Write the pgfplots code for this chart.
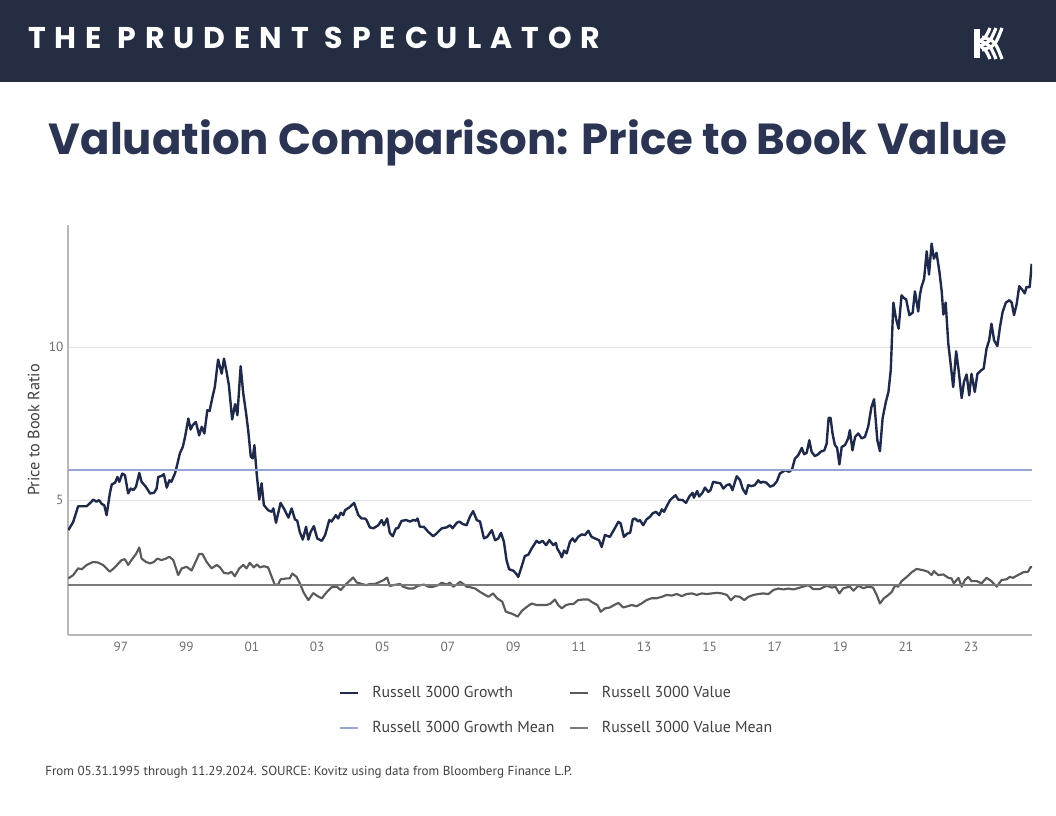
\documentclass[border=0pt]{standalone}
\usepackage{pgfplots}
\pgfplotsset{compat=1.18}
\usepackage{pgfplotstable}
\usepackage{fontspec}
\setmainfont{PT Sans}
\newfontfamily\poppins{Poppins}
\definecolor{navy}{HTML}{252D43}
\definecolor{growth}{HTML}{1F2A4A}
\definecolor{gmean}{HTML}{94A6D1}
\definecolor{valuec}{HTML}{5A5A5A}
\definecolor{vmean}{HTML}{7A7A7A}
\definecolor{titlec}{HTML}{2B3553}
\definecolor{txtgray}{HTML}{404040}
\definecolor{tickgray}{HTML}{6E6E6E}

\pgfplotstableread{
x y
1995.39 4.02
1995.54 4.29
1995.69 4.80
1995.95 4.80
1996.10 4.95
1996.15 5.02
1996.25 4.95
1996.33 5.00
1996.41 4.88
1996.49 4.83
1996.56 4.51
1996.66 5.22
1996.72 5.52
1996.82 5.57
1996.89 5.76
1996.95 5.60
1997.04 5.87
1997.12 5.82
1997.22 5.22
1997.30 5.38
1997.38 5.33
1997.46 5.44
1997.56 5.89
1997.63 5.60
1997.76 5.44
1997.89 5.22
1998.01 5.24
1998.09 5.38
1998.14 5.76
1998.24 5.79
1998.31 5.85
1998.40 5.41
1998.48 5.65
1998.54 5.60
1998.65 5.87
1998.70 6.07
1998.80 6.53
1998.89 6.74
1998.96 7.07
1999.06 7.67
1999.13 7.31
1999.19 7.45
1999.29 7.56
1999.39 7.12
1999.47 7.40
1999.55 7.18
1999.64 7.94
1999.71 7.92
1999.80 8.38
1999.87 8.70
1999.97 9.60
2000.08 9.14
2000.15 9.63
2000.23 9.19
2000.30 8.76
2000.40 7.64
2000.49 8.14
2000.56 7.78
2000.66 9.38
2000.74 8.49
2000.82 7.89
2000.89 7.29
2000.97 6.42
2001.03 6.37
2001.08 6.80
2001.15 5.87
2001.23 5.02
2001.30 5.55
2001.37 4.84
2001.50 4.67
2001.61 4.62
2001.66 4.73
2001.74 4.26
2001.88 4.91
2001.98 4.73
2002.12 4.43
2002.22 4.73
2002.32 4.37
2002.39 4.33
2002.47 3.95
2002.56 3.71
2002.66 4.13
2002.73 3.71
2002.80 3.96
2002.90 4.15
2003.00 3.75
2003.14 3.67
2003.24 3.85
2003.37 4.35
2003.44 4.30
2003.57 4.51
2003.64 4.40
2003.72 4.59
2003.80 4.51
2003.85 4.67
2003.98 4.76
2004.13 4.91
2004.26 4.51
2004.36 4.40
2004.46 4.40
2004.51 4.35
2004.61 4.11
2004.72 4.08
2004.87 4.18
2004.97 4.35
2005.04 4.18
2005.14 4.40
2005.22 3.93
2005.31 3.82
2005.41 4.08
2005.47 4.08
2005.58 4.32
2005.72 4.35
2005.84 4.30
2005.94 4.35
2006.02 4.33
2006.07 4.40
2006.14 4.13
2006.26 4.13
2006.40 3.96
2006.55 3.82
2006.65 3.91
2006.81 4.08
2006.96 4.11
2007.06 4.18
2007.14 4.08
2007.27 4.26
2007.35 4.30
2007.45 4.22
2007.57 4.18
2007.67 4.46
2007.77 4.64
2007.88 4.35
2007.98 4.30
2008.10 3.75
2008.20 3.80
2008.34 4.02
2008.44 3.69
2008.54 3.75
2008.62 3.93
2008.71 3.64
2008.79 3.04
2008.87 2.74
2009.00 2.69
2009.08 2.60
2009.15 2.49
2009.25 2.82
2009.35 3.17
2009.46 3.22
2009.56 3.42
2009.71 3.67
2009.79 3.60
2009.89 3.67
2010.00 3.53
2010.10 3.69
2010.22 3.53
2010.30 3.60
2010.34 3.42
2010.43 3.26
2010.48 3.13
2010.55 3.35
2010.63 3.26
2010.73 3.64
2010.81 3.75
2010.88 3.64
2010.98 3.80
2011.09 3.88
2011.19 3.86
2011.29 4.00
2011.39 3.80
2011.49 3.75
2011.62 3.69
2011.70 3.47
2011.80 3.86
2011.95 3.80
2012.08 4.04
2012.21 4.29
2012.28 4.24
2012.38 3.80
2012.49 3.91
2012.57 3.93
2012.65 4.37
2012.72 4.40
2012.82 4.30
2012.87 4.35
2012.97 4.18
2013.07 4.37
2013.18 4.46
2013.26 4.57
2013.36 4.62
2013.46 4.51
2013.54 4.70
2013.61 4.62
2013.69 4.80
2013.79 5.00
2013.87 5.08
2013.96 5.16
2014.04 5.02
2014.18 5.00
2014.28 4.91
2014.38 5.12
2014.48 5.24
2014.52 5.08
2014.62 5.30
2014.68 5.12
2014.78 5.24
2014.86 5.41
2014.96 5.27
2015.03 5.33
2015.11 5.60
2015.23 5.57
2015.33 5.55
2015.42 5.38
2015.52 5.49
2015.62 5.52
2015.70 5.33
2015.83 5.78
2015.93 5.66
2016.01 5.38
2016.11 5.20
2016.18 5.49
2016.28 5.46
2016.38 5.49
2016.49 5.65
2016.56 5.57
2016.64 5.60
2016.74 5.57
2016.85 5.44
2016.96 5.49
2017.06 5.62
2017.15 5.87
2017.31 5.98
2017.43 5.93
2017.52 6.00
2017.61 6.36
2017.71 6.47
2017.82 6.71
2017.89 6.50
2017.97 6.55
2018.05 6.96
2018.12 6.58
2018.22 6.44
2018.32 6.50
2018.39 6.58
2018.51 6.63
2018.58 6.85
2018.64 7.69
2018.70 7.69
2018.76 7.18
2018.83 6.81
2018.90 6.71
2018.97 6.17
2019.04 6.74
2019.14 6.80
2019.24 7.02
2019.29 7.29
2019.37 6.63
2019.45 7.07
2019.55 7.18
2019.65 7.02
2019.75 7.07
2019.85 7.40
2019.95 8.05
2020.03 8.30
2020.13 6.96
2020.21 6.60
2020.29 7.67
2020.39 8.21
2020.47 8.54
2020.54 9.25
2020.62 11.46
2020.70 10.94
2020.78 10.61
2020.87 11.70
2020.94 11.61
2021.01 11.57
2021.11 11.05
2021.21 11.13
2021.28 11.83
2021.38 11.17
2021.43 11.70
2021.48 11.97
2021.56 12.24
2021.64 13.14
2021.71 12.38
2021.79 13.39
2021.86 12.90
2021.94 13.09
2022.03 12.46
2022.10 11.81
2022.15 11.07
2022.22 11.46
2022.30 10.12
2022.37 9.47
2022.45 8.70
2022.54 9.87
2022.61 9.30
2022.71 8.34
2022.78 8.87
2022.86 9.11
2022.94 8.43
2023.01 9.13
2023.11 8.54
2023.19 9.13
2023.31 9.25
2023.38 9.30
2023.47 9.96
2023.55 10.23
2023.62 10.77
2023.70 10.23
2023.80 10.04
2023.88 10.66
2023.96 11.15
2024.06 11.46
2024.17 11.54
2024.24 11.46
2024.31 11.05
2024.39 11.41
2024.47 12.00
2024.57 11.87
2024.64 11.76
2024.69 11.97
2024.79 11.97
2024.85 12.73
}\growthtbl

\pgfplotstableread{
x y
1995.39 2.44
1995.54 2.55
1995.69 2.77
1995.80 2.74
1995.95 2.88
1996.15 2.98
1996.30 2.96
1996.45 2.88
1996.66 2.66
1996.82 2.81
1996.92 2.93
1997.02 3.04
1997.12 3.07
1997.22 2.88
1997.32 3.04
1997.46 3.24
1997.56 3.45
1997.63 3.09
1997.76 2.98
1997.89 2.93
1998.01 2.98
1998.11 3.09
1998.24 3.04
1998.38 3.09
1998.48 3.15
1998.60 3.04
1998.75 2.55
1998.86 2.77
1999.01 2.82
1999.16 2.70
1999.26 2.93
1999.39 3.24
1999.49 3.24
1999.62 2.98
1999.77 2.77
1999.93 2.88
2000.03 2.80
2000.15 2.62
2000.28 2.60
2000.38 2.66
2000.48 2.51
2000.62 2.77
2000.74 2.88
2000.84 2.77
2000.94 2.95
2001.06 2.80
2001.16 2.90
2001.25 2.80
2001.37 2.84
2001.50 2.80
2001.61 2.49
2001.71 2.22
2001.81 2.25
2001.88 2.41
2002.06 2.44
2002.16 2.44
2002.24 2.60
2002.37 2.49
2002.47 2.28
2002.59 1.97
2002.73 1.73
2002.88 1.96
2003.03 1.85
2003.14 1.79
2003.30 2.00
2003.44 2.15
2003.60 2.17
2003.72 2.06
2003.85 2.22
2003.98 2.35
2004.10 2.47
2004.21 2.31
2004.36 2.26
2004.50 2.22
2004.61 2.26
2004.77 2.26
2004.92 2.33
2005.04 2.39
2005.14 2.47
2005.22 2.19
2005.33 2.22
2005.43 2.24
2005.53 2.26
2005.63 2.17
2005.79 2.11
2005.94 2.11
2006.09 2.20
2006.26 2.24
2006.40 2.17
2006.55 2.17
2006.70 2.22
2006.81 2.30
2006.96 2.24
2007.06 2.30
2007.16 2.17
2007.27 2.24
2007.37 2.33
2007.47 2.26
2007.57 2.17
2007.69 2.15
2007.83 2.11
2007.98 2.00
2008.14 1.90
2008.24 1.84
2008.38 1.95
2008.50 1.79
2008.66 1.68
2008.77 1.35
2008.92 1.30
2009.05 1.24
2009.13 1.19
2009.26 1.38
2009.41 1.51
2009.56 1.62
2009.71 1.57
2009.87 1.57
2010.02 1.57
2010.14 1.62
2010.27 1.75
2010.37 1.57
2010.48 1.46
2010.61 1.57
2010.73 1.60
2010.83 1.60
2010.98 1.73
2011.13 1.75
2011.29 1.75
2011.44 1.64
2011.57 1.57
2011.67 1.35
2011.80 1.46
2011.95 1.49
2012.08 1.57
2012.21 1.64
2012.36 1.49
2012.49 1.53
2012.62 1.57
2012.77 1.53
2012.92 1.62
2013.07 1.73
2013.22 1.79
2013.38 1.79
2013.54 1.84
2013.69 1.90
2013.84 1.88
2014.00 1.93
2014.15 1.86
2014.30 1.93
2014.46 1.95
2014.61 1.90
2014.76 1.95
2014.91 1.93
2015.07 1.95
2015.22 1.97
2015.38 1.95
2015.53 1.90
2015.65 1.73
2015.78 1.86
2015.92 1.84
2016.06 1.73
2016.19 1.84
2016.34 1.90
2016.49 1.93
2016.64 1.95
2016.80 1.93
2016.95 2.06
2017.10 2.11
2017.26 2.08
2017.41 2.11
2017.56 2.08
2017.76 2.14
2018.02 2.22
2018.17 2.09
2018.37 2.09
2018.58 2.20
2018.74 2.14
2018.85 2.17
2018.97 1.95
2019.09 2.12
2019.29 2.17
2019.40 2.04
2019.55 2.20
2019.70 2.12
2019.85 2.17
2020.00 2.14
2020.11 1.90
2020.21 1.62
2020.33 1.79
2020.47 1.90
2020.57 2.00
2020.67 2.20
2020.77 2.17
2020.87 2.35
2021.03 2.49
2021.18 2.64
2021.33 2.75
2021.53 2.71
2021.68 2.66
2021.79 2.55
2021.86 2.68
2021.99 2.55
2022.15 2.57
2022.30 2.46
2022.40 2.44
2022.47 2.28
2022.61 2.46
2022.71 2.17
2022.81 2.39
2022.91 2.49
2023.01 2.35
2023.17 2.35
2023.32 2.28
2023.47 2.46
2023.62 2.35
2023.78 2.17
2023.93 2.39
2024.08 2.41
2024.18 2.49
2024.28 2.46
2024.43 2.55
2024.59 2.64
2024.74 2.66
2024.82 2.82
2024.86 2.80
}\valuetbl

\begin{document}
\begin{tikzpicture}[x=0.75pt,y=0.75pt]
\path[use as bounding box, fill=white] (0,0) rectangle (1056,816);
% header band
\fill[navy] (0,734) rectangle (1056,816);
\node[anchor=base west, inner sep=0, text=white] at (28,767)
  {\poppins\bfseries\fontsize{22.5}{26}\selectfont\addfontfeatures{LetterSpace=30}THE PRUDENT SPECULATOR};
% logo
\begin{scope}[white]
\fill (974,787) rectangle (980,758);
\draw[line width=2.4pt] (980,775) .. controls (986,779) .. (990,788);
\draw[line width=2.4pt] (980,770) .. controls (990,774) .. (996,788);
\draw[line width=2.4pt] (982,766) .. controls (995,770) .. (1002,788);
\draw[line width=2.4pt] (982,779) .. controls (995,775) .. (1002,757);
\draw[line width=2.4pt] (980,775) .. controls (990,771) .. (996,757);
\draw[line width=2.4pt] (980,770) .. controls (986,766) .. (990,757);
\end{scope}
% title
\node[anchor=base, inner sep=0, text=titlec] at (528,661)
  {\poppins\bfseries\fontsize{32.6}{36}\selectfont Valuation Comparison: Price to Book Value};
% footnote
\node[anchor=base west, inner sep=0, text=txtgray] at (45,40)
  {\fontsize{9.8}{11}\selectfont From 05.31.1995 through 11.29.2024. SOURCE: Kovitz using data from Bloomberg Finance L.P.};

\begin{axis}[
  at={(51pt,135.75pt)}, anchor=south west,
  scale only axis, width=723pt, height=307.5pt,
  xmin=1995.38, xmax=2024.86, ymin=0.59, ymax=14,
  axis x line*=bottom, axis y line*=left,
  axis line style={draw=black!28, line width=0.8pt, -},
  xtick={1997,1999,...,2023},
  xticklabels={97,99,01,03,05,07,09,11,13,15,17,19,21,23},
  ytick={5,10},
  major tick length=0pt,
  ymajorgrids, grid style={draw=black!12, line width=0.8pt},
  tick label style={font=\fontsize{10}{11}\selectfont, text=tickgray},
  /pgf/number format/assume math mode=true,
  xticklabel style={yshift=-2pt},
  ylabel={Price to Book Ratio},
  ylabel style={font=\fontsize{12.2}{13}\selectfont, text=txtgray, yshift=0pt},
  legend columns=2,
  legend cell align=left,
  legend style={at={(0.277,-0.112)}, anchor=north west, draw=none, fill=none,
    font=\fontsize{11.9}{13}\selectfont, text=txtgray, row sep=12pt,
    /tikz/every even column/.append style={column sep=9pt}},
  legend image code/.code={\draw[#1] (0pt,0pt) -- (13.5pt,0pt); \path (21pt,0pt);},
]
\addplot[growth, line width=1.8pt, line join=round] table {\growthtbl};
\addlegendentry{Russell 3000 Growth}
\addplot[valuec, line width=1.6pt, line join=round] table {\valuetbl};
\addlegendentry{Russell 3000 Value}
\addplot[gmean, line width=1.5pt] coordinates {(1995.38,6.0) (2024.86,6.0)};
\addlegendentry{Russell 3000 Growth Mean}
\addplot[vmean, line width=1.5pt] coordinates {(1995.38,2.22) (2024.86,2.22)};
\addlegendentry{Russell 3000 Value Mean}
\end{axis}
\end{tikzpicture}
\end{document}
